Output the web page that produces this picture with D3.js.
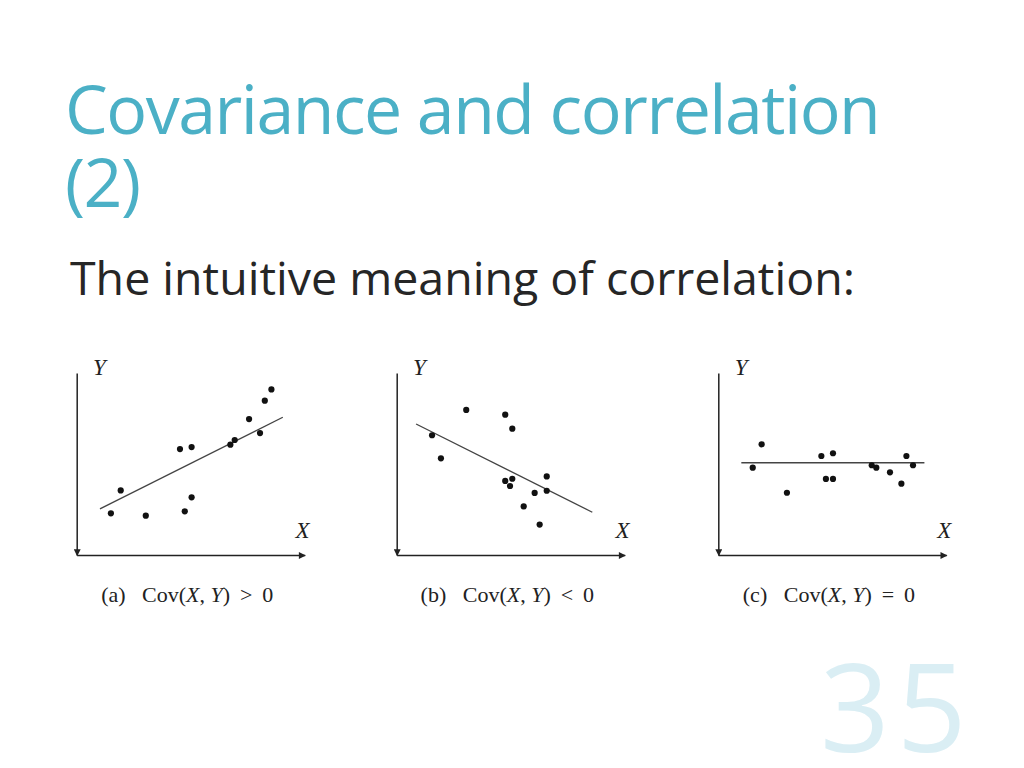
<!DOCTYPE html>
<html>
<head>
<meta charset="utf-8">
<script src="https://cdn.jsdelivr.net/npm/d3@7"></script>
<style>
  body { margin: 0; background: #fff; }
  .title { font-family: "Open Sans", sans-serif; font-size: 68px; fill: #4bb0c6; letter-spacing: -1.5px; }
  .subtitle { font-family: "Open Sans", sans-serif; font-size: 46.5px; fill: #262626; }
  .page-num { font-family: "Open Sans", sans-serif; font-size: 122px; fill: #daeef4; letter-spacing: 7px; }
  .axis-label { font-family: "Liberation Serif", serif; font-style: italic; font-size: 23px; fill: #222; }
  .caption { font-family: "Liberation Serif", serif; font-size: 22px; fill: #222; }
</style>
</head>
<body>
<svg width="1024" height="768"></svg>
<script>
// values (unit grid 0..10 on both axes)
const posX = [1.50, 1.93, 3.03, 4.53, 5.04, 4.74, 5.04, 6.74, 6.93, 7.56, 8.04, 8.25, 8.54]
const posY = [2.29, 3.55, 2.16, 5.82, 5.93, 2.40, 3.17, 6.06, 6.32, 7.47, 6.70, 8.48, 9.10]

const negX = [3.05, 4.76, 5.07, 1.55, 1.94, 4.76, 5.07, 4.97, 6.05, 6.58, 6.58, 5.57, 6.27]
const negY = [7.97, 7.71, 6.94, 6.58, 5.31, 4.07, 4.19, 3.79, 3.41, 4.32, 3.53, 2.67, 1.67]

const zeroX = [1.90, 1.51, 3.01, 4.52, 5.03, 4.72, 5.03, 6.73, 6.93, 7.53, 8.03, 8.25, 8.54]
const zeroY = [6.08, 4.80, 3.42, 5.44, 5.59, 4.18, 4.18, 4.93, 4.80, 4.54, 3.92, 5.44, 4.93]

// fitted line end points [x1, y1, x2, y2]
const posLine = [1.02, 2.53, 9.04, 7.57]
const negLine = [0.85, 7.20, 8.58, 2.35]
const zeroLine = [1.01, 5.07, 9.04, 5.07]

const captionTags = ['(a)', '(b)', '(c)']
const captionOps = ['>', '<', '=']

const panels = [
  {x: posX, y: posY, line: posLine, ox: 76.7},
  {x: negX, y: negY, line: negLine, ox: 396.7},
  {x: zeroX, y: zeroY, line: zeroLine, ox: 718.3}
]

const svg = d3.select('svg')

svg.append('defs').append('marker')
  .attr('id', 'arrow')
  .attr('viewBox', '0 0 10 10')
  .attr('refX', 9).attr('refY', 5)
  .attr('markerWidth', 10).attr('markerHeight', 7)
  .attr('markerUnits', 'userSpaceOnUse')
  .attr('orient', 'auto')
  .append('path')
    .attr('d', 'M0,0L10,5L0,10z')
    .attr('fill', '#222')

const title = svg.append('text').attr('class', 'title')
  .attr('x', 65).attr('y', 134)
title.append('tspan').attr('x', 65).text('Covariance and correlation')
title.append('tspan').attr('x', 65).attr('dy', 73).text('(2)')

svg.append('text').attr('class', 'subtitle')
  .attr('x', 70).attr('y', 295)
  .text('The intuitive meaning of correlation:')

svg.append('text').attr('class', 'page-num')
  .attr('x', 820).attr('y', 752)
  .text('35')

const originY = 555
const xScale = d3.scaleLinear().domain([0, 10]).range([0, 228])
const yScale = d3.scaleLinear().domain([0, 10]).range([0, -182])

panels.forEach((p, i) => {
  const g = svg.append('g')
    .attr('transform', `translate(${p.ox}, ${originY})`)

  const xAxis = g.append('g')
    .call(d3.axisBottom(xScale).tickValues([]).tickSizeOuter(0))
  xAxis.select('.domain')
    .attr('stroke', '#222').attr('stroke-width', 1.5)
    .attr('marker-end', 'url(#arrow)')

  const yAxis = g.append('g')
    .call(d3.axisLeft(d3.scaleLinear().domain([10, 0]).range([-182, 0])).tickValues([]).tickSizeOuter(0))
  yAxis.select('.domain')
    .attr('stroke', '#222').attr('stroke-width', 1.5)
    .attr('marker-end', 'url(#arrow)')

  g.append('line')
    .attr('x1', xScale(p.line[0])).attr('y1', yScale(p.line[1]))
    .attr('x2', xScale(p.line[2])).attr('y2', yScale(p.line[3]))
    .attr('stroke', '#444').attr('stroke-width', 1.3)

  g.selectAll('circle').data(d3.zip(p.x, p.y))
    .enter().append('circle')
      .attr('cx', d => xScale(d[0]))
      .attr('cy', d => yScale(d[1]))
      .attr('r', 3.1)
      .attr('fill', '#111')

  g.append('text').attr('class', 'axis-label')
    .attr('x', xScale(0.72)).attr('y', yScale(9.89))
    .text('Y')
  g.append('text').attr('class', 'axis-label')
    .attr('x', xScale(9.6)).attr('y', yScale(0.93))
    .text('X')

  const cap = g.append('text').attr('class', 'caption')
    .attr('x', xScale(4.85)).attr('y', 47)
    .attr('text-anchor', 'middle')
  cap.append('tspan').text(captionTags[i] + '\u2002 Cov(')
  cap.append('tspan').attr('font-style', 'italic').text('X')
  cap.append('tspan').text(', ')
  cap.append('tspan').attr('font-style', 'italic').text('Y')
  cap.append('tspan').text(')\u00a0\u2009' + captionOps[i] + '\u00a0\u20090')
})
</script>
</body>
</html>
